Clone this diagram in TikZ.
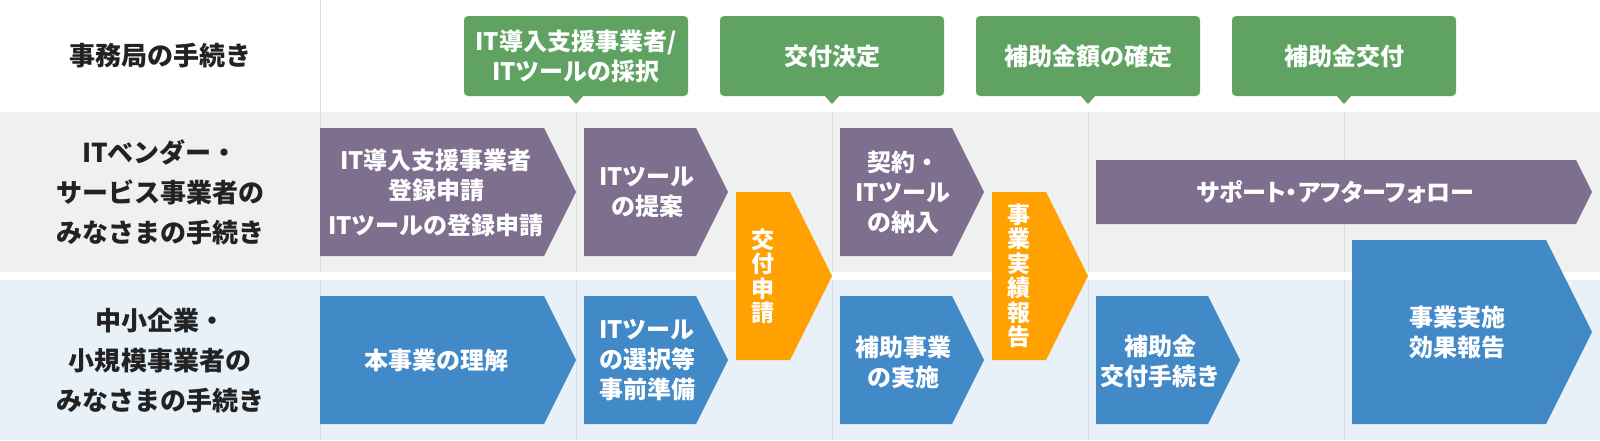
\documentclass[tikz,border=0pt]{standalone}
\usepackage{fontspec}
\setmainfont{Noto Sans CJK JP}
\newfontfamily\propfont[RawFeature=+palt]{Noto Sans CJK JP}
\usetikzlibrary{positioning}
\definecolor{office}{HTML}{5FA262}
\definecolor{vendor}{HTML}{7E6F8E}
\definecolor{client}{HTML}{4289C8}
\definecolor{apply}{HTML}{FFA100}
\definecolor{vendorbg}{HTML}{F0F0F0}
\definecolor{clientbg}{HTML}{E8F0F8}
\definecolor{rulegray}{HTML}{DCDCDC}
\definecolor{ruleblue}{HTML}{D5DDE6}
\definecolor{ink}{HTML}{222222}

\begin{document}
\begin{tikzpicture}[x=1pt,y=-1pt,
  lane/.style={text=ink,font=\fontsize{26}{40}\selectfont\bfseries,align=center},
  boxtext/.style={text=white,font=\fontsize{24}{30}\selectfont\bfseries,align=center,inner sep=0pt},
  officebox/.style={boxtext,fill=office,rounded corners=4pt,minimum width=224pt,minimum height=80pt},
  vtext/.style={text=white,font=\fontsize{23}{24.5}\selectfont\bfseries,align=center,inner sep=0pt}]
  \useasboundingbox (0,0) rectangle (1600,440);
  \fill[vendorbg] (0,112) rectangle (1600,272);
  \fill[clientbg] (0,280) rectangle (1600,440);
  \draw[rulegray] (320,0) -- (320,272);
  \draw[ruleblue] (320,280) -- (320,440);
  \foreach \x in {576,832,1088,1344} {
    \draw[rulegray] (\x,112) -- (\x,272);
    \draw[ruleblue] (\x,280) -- (\x,440);
    \fill[office] (\x-8,95) -- (\x+8,95) -- (\x,104) -- cycle;
  }

  \node[lane] (office) at (160,56) {事務局の手続き};
  \node[lane] (vendorlane) at (160,192) {ITベンダー・\\サービス事業者の\\みなさまの手続き};
  \node[lane] (clientlane) at (160,361) {中小企業・\\小規模事業者の\\みなさまの手続き};

  \node[officebox] (adopt) at (576,56) {IT導入支援事業者/\\ITツールの採択};
  \node[officebox] (decide) at (832,56) {交付決定};
  \node[officebox] (confirm) at (1088,56) {補助金額の確定};
  \node[officebox] (grant) at (1344,56) {補助金交付};

  \fill[vendor] (320,128) -- (544,128) -- (576,192) -- (544,256) -- (320,256) -- cycle;
  \fill[vendor] (584,128) -- (696,128) -- (728,192) -- (696,256) -- (584,256) -- cycle;
  \fill[vendor] (840,128) -- (952,128) -- (984,192) -- (952,256) -- (840,256) -- cycle;
  \fill[vendor] (1096,160) -- (1576,160) -- (1592,192) -- (1576,224) -- (1096,224) -- cycle;
  \fill[apply] (736,192) -- (790,192) -- (832,276) -- (790,360) -- (736,360) -- cycle;
  \fill[apply] (992,192) -- (1046,192) -- (1088,276) -- (1046,360) -- (992,360) -- cycle;
  \fill[client] (320,296) -- (544,296) -- (576,360) -- (544,424) -- (320,424) -- cycle;
  \fill[client] (584,296) -- (696,296) -- (728,360) -- (696,424) -- (584,424) -- cycle;
  \fill[client] (840,296) -- (952,296) -- (984,360) -- (952,424) -- (840,424) -- cycle;
  \fill[client] (1096,296) -- (1208,296) -- (1240,360) -- (1208,424) -- (1096,424) -- cycle;
  \fill[client] (1352,240) -- (1546,240) -- (1592,332) -- (1546,424) -- (1352,424) -- cycle;

  \node[boxtext] (register) at (436,193) {IT導入支援事業者\\登録申請\\[5pt]ITツールの登録申請};
  \node[boxtext] (propose) at (647,192) {ITツール\\の提案};
  \node[boxtext] (deliver) at (903,192) {契約・\\ITツール\\の納入};
  \node[boxtext,font=\propfont\fontsize{24}{30}\selectfont\bfseries] (support) at (1335,192) {サポート・アフターフォロー};
  \node[vtext] (request) at (763,276) {交\\付\\申\\請};
  \node[vtext] (report) at (1019,276) {事\\業\\実\\績\\報\\告};
  \node[boxtext] (learn) at (436,360) {本事業の理解};
  \node[boxtext] (select) at (647,360) {ITツール\\の選択等\\事前準備};
  \node[boxtext] (run) at (903,362) {補助事業\\の実施};
  \node[boxtext] (claim) at (1160,361) {補助金\\交付手続き};
  \node[boxtext] (effect) at (1457,332) {事業実施\\効果報告};
\end{tikzpicture}
\end{document}
